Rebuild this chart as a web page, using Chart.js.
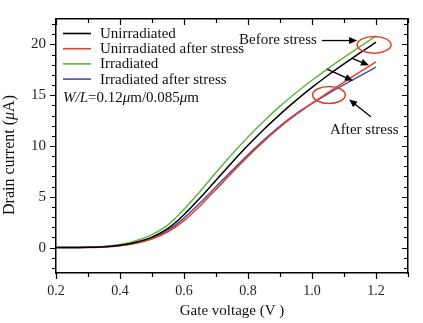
<!DOCTYPE html>
<html>
<head>
<meta charset="utf-8">
<script src="https://cdn.jsdelivr.net/npm/chart.js@4/dist/chart.umd.min.js"></script>
<style>
  html, body { margin: 0; padding: 0; background: #fff; }
  #wrap { width: 423px; height: 323px; }
</style>
</head>
<body>
<div id="wrap"><canvas id="c" width="423" height="323"></canvas></div>
<script>
// ---- data ----
const gateVoltage = [0.2, 0.25, 0.3, 0.35, 0.4, 0.45, 0.5, 0.55, 0.6, 0.65, 0.7, 0.75, 0.8, 0.85, 0.9, 0.95, 1.0, 1.05, 1.1, 1.15, 1.2];
const unirradiated = [0, 0.005, 0.025, 0.085, 0.235, 0.535, 1.035, 1.885, 3.235, 4.885, 6.635, 8.385, 10.065, 11.645, 13.115, 14.485, 15.765, 16.965, 18.085, 19.165, 20.215];
const unirradiatedAfterStress = [0, 0.004, 0.019, 0.069, 0.189, 0.429, 0.849, 1.549, 2.649, 4.099, 5.719, 7.379, 8.979, 10.479, 11.859, 13.079, 14.199, 15.259, 16.289, 17.289, 18.269];
const irradiated = [0, 0.006, 0.031, 0.111, 0.311, 0.681, 1.281, 2.231, 3.781, 5.531, 7.381, 9.181, 10.881, 12.461, 13.921, 15.241, 16.471, 17.621, 18.721, 19.781, 20.811];
const irradiatedAfterStress = [0, 0.005, 0.023, 0.078, 0.208, 0.468, 0.928, 1.708, 2.908, 4.388, 5.988, 7.588, 9.138, 10.608, 11.968, 13.168, 14.188, 15.138, 16.038, 16.908, 17.758];
const seriesLabels = ['Unirradiated', 'Unirradiated after stress', 'Irradiated', 'Irradiated after stress'];
const seriesValues = [unirradiated, unirradiatedAfterStress, irradiated, irradiatedAfterStress];
const seriesColors = ['#000000', '#e2402a', '#5fb640', '#4a4fa0'];
const xTickLabels = [0.2, 0.4, 0.6, 0.8, 1.0, 1.2];
const yTickLabels = [0, 5, 10, 15, 20];
const xMinorStep = 0.1;
const yMinorStep = 1;

// annotation anchors in data units
const annotations = {
  beforeText: { x: 0.772, y: 20.46, text: 'Before stress' },
  beforeArrow: { x1: 1.031, y1: 20.38, x2: 1.141, y2: 20.38 },
  ellipseTop: { x: 1.194, y: 19.96, rx: 0.053, ry: 0.82 },
  ellipseLow: { x: 1.053, y: 15.02, rx: 0.051, ry: 0.83 },
  afterText: { x: 1.056, y: 11.53, text: 'After stress' },
  afterArrow: { x1: 1.184, y1: 12.87, x2: 1.116, y2: 14.57 },
  shift1: { x1: 1.127, y1: 18.59, x2: 1.178, y2: 17.94 },
  shift2: { x1: 1.047, y1: 17.57, x2: 1.128, y2: 16.43 }
};

const SERIF = "'Liberation Serif', 'Times New Roman', serif";
const TXT = '#111';

function drawArrow(ctx, x1, y1, x2, y2) {
  const ang = Math.atan2(y2 - y1, x2 - x1);
  const hl = 8, hw = 3.5;
  ctx.beginPath();
  ctx.moveTo(x1, y1);
  ctx.lineTo(x2 - Math.cos(ang) * hl * 0.8, y2 - Math.sin(ang) * hl * 0.8);
  ctx.stroke();
  ctx.beginPath();
  ctx.moveTo(x2, y2);
  ctx.lineTo(x2 - Math.cos(ang) * hl - Math.sin(ang) * hw, y2 - Math.sin(ang) * hl + Math.cos(ang) * hw);
  ctx.lineTo(x2 - Math.cos(ang) * hl + Math.sin(ang) * hw, y2 - Math.sin(ang) * hl - Math.cos(ang) * hw);
  ctx.closePath();
  ctx.fill();
}

function drawRich(ctx, parts, x, y) {
  let cx = x;
  for (const p of parts) {
    ctx.font = (p.i ? 'italic ' : '') + p.s + 'px ' + SERIF;
    ctx.fillText(p.t, cx, y);
    cx += ctx.measureText(p.t).width;
  }
  return cx - x;
}
function richWidth(ctx, parts) {
  let w = 0;
  for (const p of parts) {
    ctx.font = (p.i ? 'italic ' : '') + p.s + 'px ' + SERIF;
    w += ctx.measureText(p.t).width;
  }
  return w;
}

const decorPlugin = {
  id: 'decor',
  afterDraw(chart) {
    const ctx = chart.ctx;
    const xs = chart.scales.x, ys = chart.scales.y;
    const ca = chart.chartArea;
    ctx.save();
    // minor / major ticks
    ctx.strokeStyle = '#000';
    ctx.lineWidth = 1.2;
    const isMajX = v => xTickLabels.some(t => Math.abs(t - v) < 1e-6);
    const isMajY = v => yTickLabels.some(t => Math.abs(t - v) < 1e-6);
    for (let k = 0; ; k++) {
      const v = xs.min + k * xMinorStep;
      if (v > xs.max + 1e-6) break;
      const px = Math.round(xs.getPixelForValue(v)) + 0.5;
      const L = isMajX(v) ? 6 : 4;
      ctx.beginPath();
      ctx.moveTo(px, ca.bottom); ctx.lineTo(px, ca.bottom + L);
      ctx.moveTo(px, ca.top); ctx.lineTo(px, ca.top + L);
      ctx.stroke();
    }
    for (let v = Math.ceil(ys.min); v <= ys.max + 1e-6; v += yMinorStep) {
      const py = Math.round(ys.getPixelForValue(v)) + 0.5;
      const L = isMajY(v) ? 6 : 4;
      ctx.beginPath();
      ctx.moveTo(ca.left, py); ctx.lineTo(ca.left - L, py);
      ctx.moveTo(ca.right, py); ctx.lineTo(ca.right - L, py);
      ctx.stroke();
    }

    // legend
    ctx.textBaseline = 'middle';
    ctx.textAlign = 'left';
    ctx.fillStyle = TXT;
    const lx = ca.left + 7, ly = 33.5, lstep = 15.2;
    seriesLabels.forEach((lab, i) => {
      const y = ly + i * lstep;
      ctx.strokeStyle = seriesColors[i];
      ctx.lineWidth = 1.6;
      ctx.beginPath();
      ctx.moveTo(lx, y); ctx.lineTo(lx + 28, y);
      ctx.stroke();
      ctx.font = '15px ' + SERIF;
      ctx.fillStyle = TXT;
      ctx.fillText(lab, lx + 37, y + 0.5);
    });
    drawRich(ctx, [
      { t: 'W/L', i: true, s: 15 }, { t: '=0.12', s: 15 }, { t: 'μ', i: true, s: 15 },
      { t: 'm/0.085', s: 15 }, { t: 'μ', i: true, s: 15 }, { t: 'm', s: 15 }
    ], lx, ly + 4 * lstep + 4);

    // annotations
    const P = (x, y) => [xs.getPixelForValue(x), ys.getPixelForValue(y)];
    ctx.font = '15px ' + SERIF;
    ctx.fillStyle = TXT;
    let p = P(annotations.beforeText.x, annotations.beforeText.y);
    ctx.fillText(annotations.beforeText.text, p[0], p[1]);
    p = P(annotations.afterText.x, annotations.afterText.y);
    ctx.fillText(annotations.afterText.text, p[0], p[1]);

    ctx.strokeStyle = '#000';
    ctx.fillStyle = '#000';
    ctx.lineWidth = 1.3;
    for (const key of ['beforeArrow', 'afterArrow', 'shift1', 'shift2']) {
      const a = annotations[key];
      const p1 = P(a.x1, a.y1), p2 = P(a.x2, a.y2);
      drawArrow(ctx, p1[0], p1[1], p2[0], p2[1]);
    }
    ctx.strokeStyle = '#e2402a';
    ctx.lineWidth = 1.5;
    for (const key of ['ellipseTop', 'ellipseLow']) {
      const e = annotations[key];
      const c = P(e.x, e.y);
      const rx = Math.abs(xs.getPixelForValue(e.x + e.rx) - c[0]);
      const ry = Math.abs(ys.getPixelForValue(e.y + e.ry) - c[1]);
      ctx.beginPath();
      ctx.ellipse(c[0], c[1], rx, ry, 0, 0, Math.PI * 2);
      ctx.stroke();
    }

    // axis titles
    ctx.fillStyle = TXT;
    ctx.textBaseline = 'middle';
    const xt = [{ t: 'Gate voltage (V )', s: 15 }];
    const xw = richWidth(ctx, xt);
    drawRich(ctx, xt, (ca.left + ca.right) / 2 - xw / 2, 311);
    ctx.save();
    ctx.translate(10, 155);
    ctx.rotate(-Math.PI / 2);
    const yt = [{ t: 'Drain current (', s: 16 }, { t: 'μ', i: true, s: 16 }, { t: 'A)', s: 16 }];
    const yw = richWidth(ctx, yt);
    drawRich(ctx, yt, -yw / 2, 0);
    ctx.restore();
    ctx.restore();
  }
};

const datasets = seriesLabels.map((lab, i) => ({
  label: lab,
  data: gateVoltage.map((x, j) => ({ x: x, y: seriesValues[i][j] })),
  borderColor: seriesColors[i],
  backgroundColor: seriesColors[i],
  borderWidth: 1.5,
  pointRadius: 0,
  fill: false,
  cubicInterpolationMode: 'monotone'
}));

const axisBorder = { display: true, color: '#000', width: 1.5 };
new Chart(document.getElementById('c'), {
  type: 'line',
  data: { datasets: datasets },
  options: {
    responsive: false,
    animation: false,
    devicePixelRatio: 1,
    layout: { padding: 0 },
    plugins: { legend: { display: false }, tooltip: { enabled: false } },
    scales: {
      x: {
        type: 'linear', position: 'bottom', min: 0.2, max: 1.3,
        afterBuildTicks: s => { s.ticks = xTickLabels.map(v => ({ value: v })); },
        afterFit: s => { s.height = 50; },
        grid: { display: false, drawTicks: false, tickLength: 0 },
        border: axisBorder,
        ticks: { padding: 10, color: '#222', font: { family: SERIF, size: 14 }, maxRotation: 0, autoSkip: false,
                 callback: v => Number(v).toFixed(1) }
      },
      x2: {
        type: 'linear', position: 'top', min: 0.2, max: 1.3,
        afterFit: s => { s.height = 13; },
        grid: { display: false, drawTicks: false, tickLength: 0 },
        border: axisBorder,
        ticks: { display: false }
      },
      y: {
        type: 'linear', position: 'left', min: -2.5, max: 22.5,
        afterBuildTicks: s => { s.ticks = yTickLabels.map(v => ({ value: v })); },
        afterFit: s => { s.width = 56; },
        grid: { display: false, drawTicks: false, tickLength: 0 },
        border: axisBorder,
        ticks: { padding: 10, color: '#222', font: { family: SERIF, size: 15 }, autoSkip: false,
                 callback: v => String(v) }
      },
      y2: {
        type: 'linear', position: 'right', min: -2.5, max: 22.5,
        afterFit: s => { s.width = 15; },
        grid: { display: false, drawTicks: false, tickLength: 0 },
        border: axisBorder,
        ticks: { display: false }
      }
    }
  },
  plugins: [decorPlugin]
});
</script>
</body>
</html>
